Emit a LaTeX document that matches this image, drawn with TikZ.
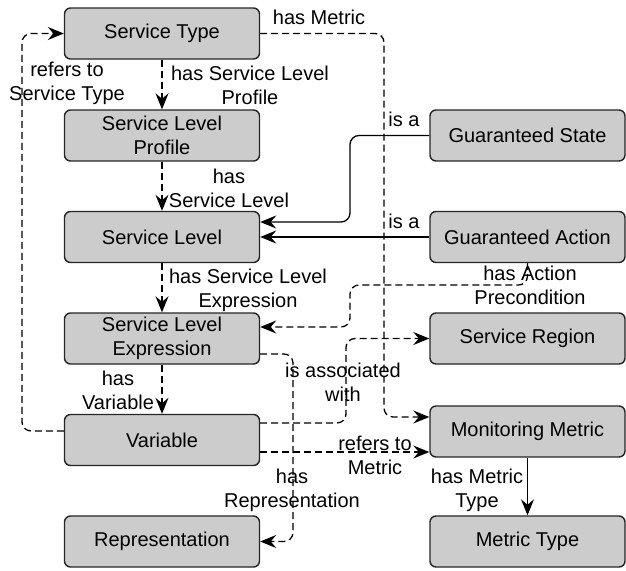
\documentclass[tikz,border=0pt]{standalone}
\usepackage{fontspec}
\setmainfont{Liberation Sans}
\usetikzlibrary{arrows.meta,calc}
\begin{document}
\begin{tikzpicture}[x=1pt,y=-1pt,
  box/.style={draw=black!85, line width=1.4pt, fill=black!20, rounded corners=6pt, minimum width=195pt, minimum height=51pt, align=center, inner sep=0pt, font=\fontsize{20}{24}\selectfont},
  lbl/.style={align=center, inner sep=0pt, font=\fontsize{20}{24}\selectfont},
  conn/.style={line width=1.3pt, -{Stealth[length=16pt,width=13pt,inset=5.5pt]}, rounded corners=9pt},
  dconn/.style={conn, dash pattern=on 7pt off 4pt}]
\useasboundingbox (0,0) rectangle (626,570);
% boxes
\node[box] (st) at (162,33.5) {Service Type};
\node[box] (slp) at (162,135.5) {Service Level\\Profile};
\node[box] (sl) at (162,237) {Service Level};
\node[box] (sle) at (162,338.5) {Service Level\\Expression};
\node[box] (var) at (162,440) {Variable};
\node[box] (rep) at (162,541.5) {Representation};
\node[box] (gs) at (527.5,135.5) {Guaranteed State};
\node[box] (ga) at (527.5,237) {Guaranteed Action};
\node[box] (sr) at (527.5,338.5) {Service Region};
\node[box] (mm) at (527.5,431.5) {Monitoring Metric};
\node[box] (mt) at (527.5,541.5) {Metric Type};
% connectors
\draw[dconn] (st) -- (slp);
\draw[dconn] (slp) -- (sl);
\draw[dconn] (sl) -- (sle);
\draw[dconn] (sle) -- (var);
\draw[conn] (mm) -- (mt);
\draw[conn] (ga) -- (sl);
\draw[conn] (gs.west) -- (350,135.5) -- (350,222) -- ([yshift=15pt]sl.east);
\draw[dconn] ([yshift=9pt]var.west) -- (22,431) -- (22,33.5) -- (st.west);
\draw[dconn] (st.east) -- (384,33.5) -- (384,417) -- ([yshift=14.5pt]mm.west);
\draw[dconn] (ga.south) -- (527.5,285) -- (350,285) -- (350,327) -- ([yshift=11.5pt]sle.east);
\draw[dconn] ([yshift=-15.5pt]sle.east) -- (293,354) -- (293,541.5) -- (rep.east);
\draw[dconn] ([yshift=17pt]var.east) -- (346,423) -- (346,338.5) -- (sr.west);
\draw[dconn] ([yshift=-12pt]var.east) -- ([yshift=-12pt]var.east -| mm.west);
% labels
\node[lbl] (l1) at (250,85) {has Service Level\\Profile};
\node[lbl] (l2) at (229,188) {has\\Service Level};
\node[lbl] (l3) at (248,290) {has Service Level\\Expression};
\node[lbl] (l4) at (118,390) {has\\Variable};
\node[lbl] (l5) at (67,83) {refers to\\Service Type};
\node[lbl] (l6) at (319,17) {has Metric};
\node[lbl] (l7) at (404,119) {is a};
\node[lbl] (l8) at (404,221) {is a};
\node[lbl] (l9) at (530,285) {has Action\\Precondition};
\node[lbl] (l10) at (343,382) {is associated\\with};
\node[lbl] (l11) at (375,455) {refers to\\Metric};
\node[lbl] (l12) at (292,490) {has\\Representation};
\node[lbl] (l13) at (477,490) {has Metric\\Type};
\end{tikzpicture}
\end{document}
